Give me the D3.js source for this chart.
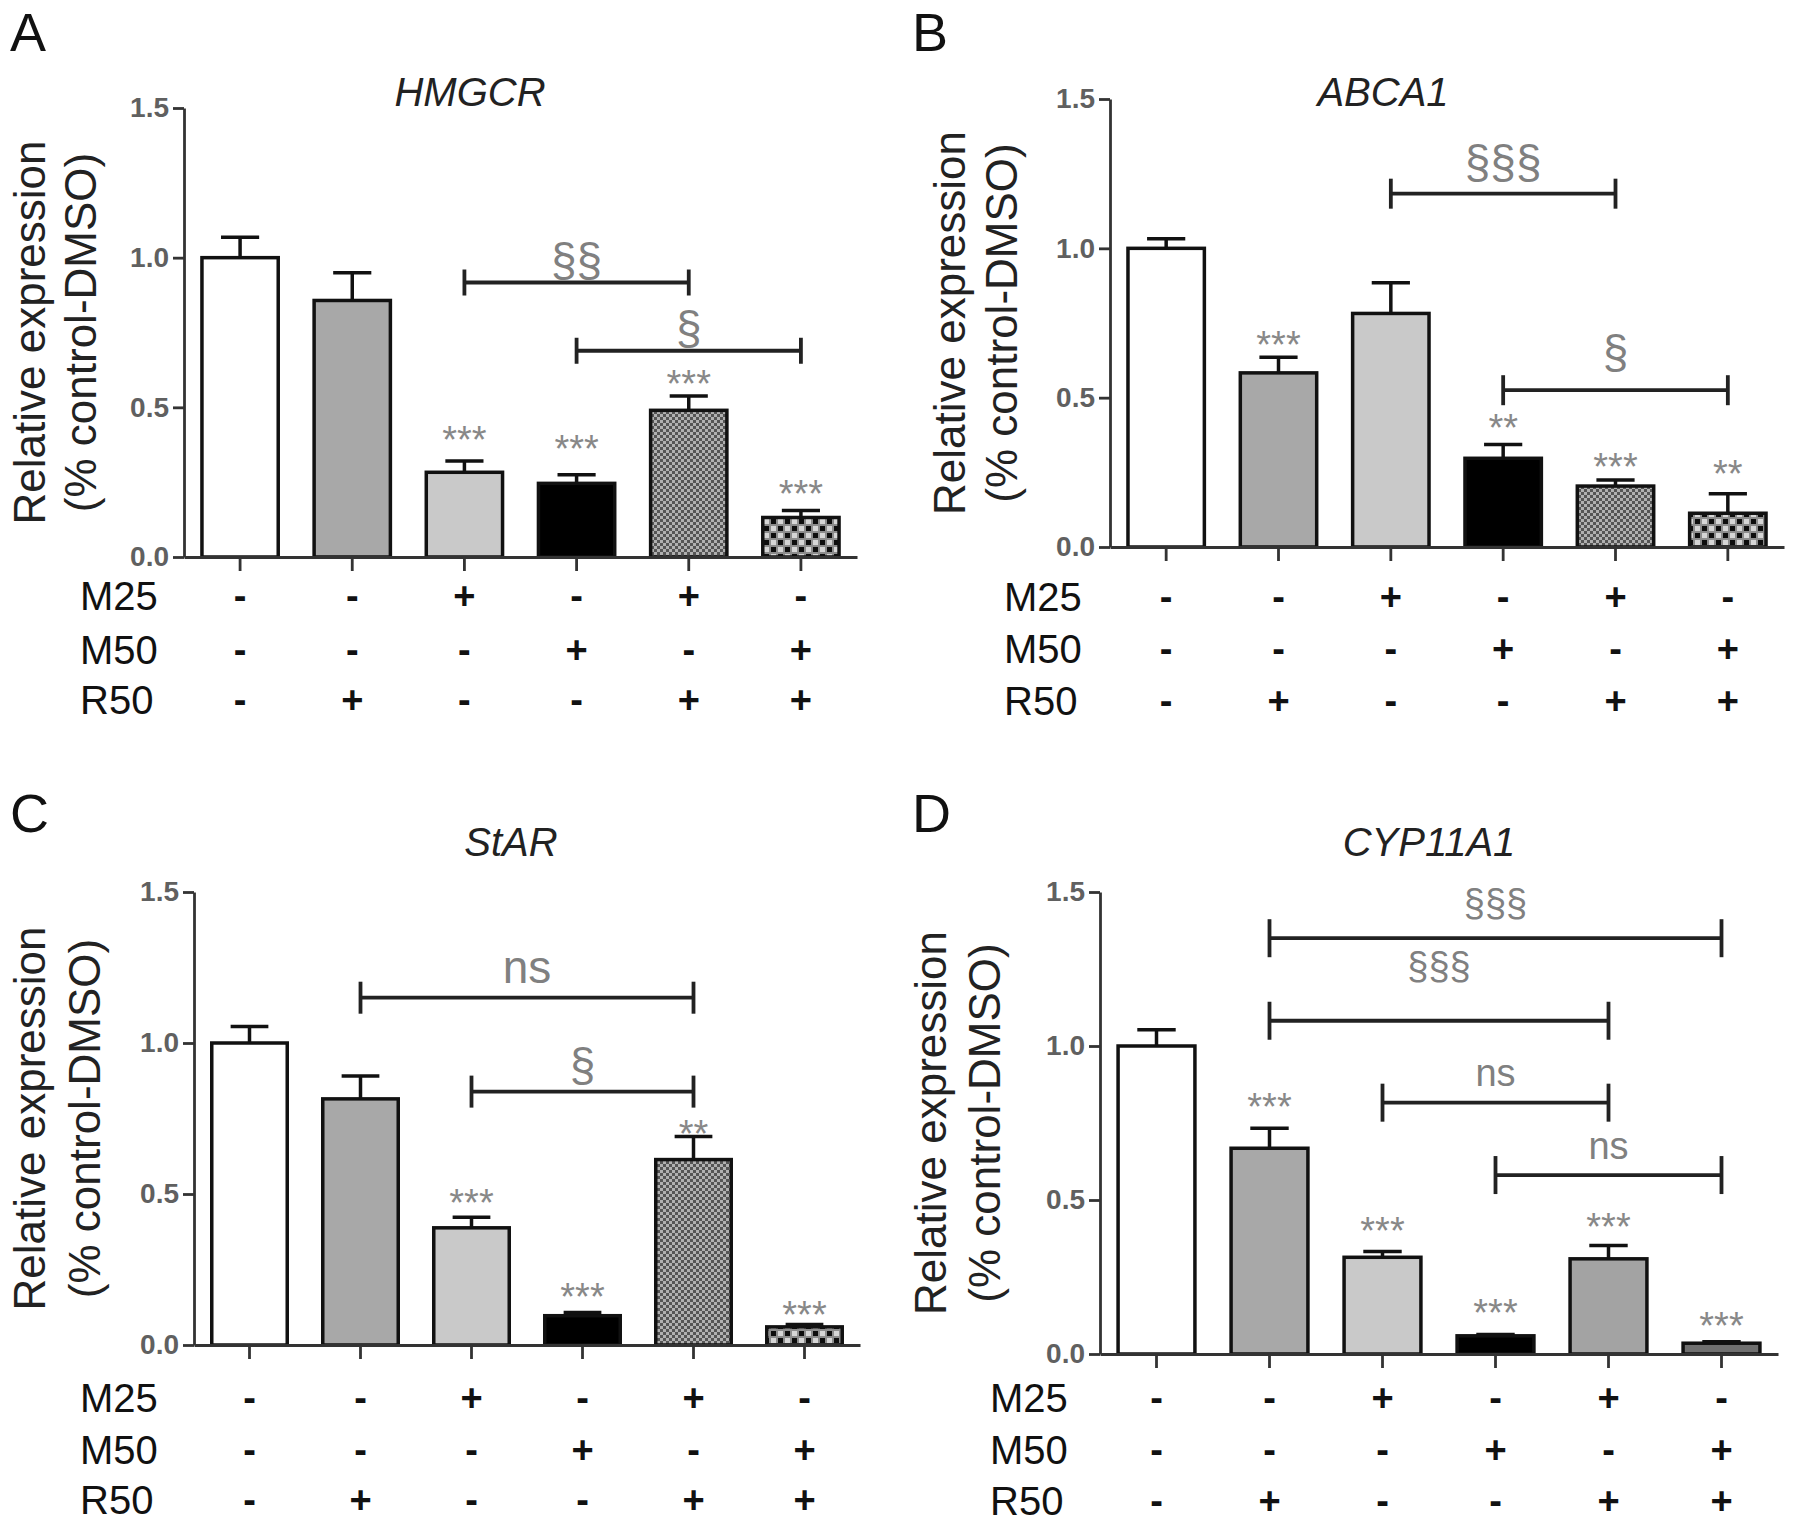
<!DOCTYPE html>
<html lang="en">
<head>
<meta charset="UTF-8">
<title>Relative expression</title>
<script src="https://d3js.org/d3.v7.min.js"></script>
<style>
  body { margin: 0; background: #fff; }
  text { font-family: "Liberation Sans", Arial, sans-serif; }
</style>
</head>
<body>
<script>
// treatment groups (one bar each) and the +/- table under the bars
const groups = ["g1", "g2", "g3", "g4", "g5", "g6"];
const rowNames = ["M25", "M50", "R50"];
const m25 = ["-", "-", "+", "-", "+", "-"];
const m50 = ["-", "-", "-", "+", "-", "+"];
const r50 = ["-", "+", "-", "-", "+", "+"];
const yTicks = [0, 0.5, 1.0, 1.5];

// A - HMGCR
const hmgcrMean = [1.0, 0.857, 0.283, 0.246, 0.49, 0.132];
const hmgcrErr = [0.068, 0.093, 0.038, 0.029, 0.048, 0.023];
const hmgcrStars = ["", "", "***", "***", "***", "***"];
const hmgcrStarLevel = [0, 0, 0.42, 0.39, 0.607, 0.241];
const hmgcrBrackets = [
  { from: 2, to: 4, level: 0.917, label: "§§", textLevel: 0.98 },
  { from: 3, to: 5, level: 0.689, label: "§", textLevel: 0.754 }
];

// B - ABCA1
const abca1Mean = [1.0, 0.583, 0.782, 0.297, 0.204, 0.113];
const abca1Err = [0.032, 0.052, 0.103, 0.046, 0.02, 0.065];
const abca1Stars = ["", "***", "", "**", "***", "**"];
const abca1StarLevel = [0, 0.705, 0, 0.428, 0.297, 0.273];
const abca1Brackets = [
  { from: 2, to: 4, level: 1.183, label: "§§§", textLevel: 1.276 },
  { from: 3, to: 5, level: 0.525, label: "§", textLevel: 0.64 }
];

// C - StAR
const starMean = [1.0, 0.815, 0.388, 0.097, 0.614, 0.06];
const starErr = [0.055, 0.076, 0.035, 0.011, 0.076, 0.008];
const starStars = ["", "", "***", "***", "**", "***"];
const starStarLevel = [0, 0, 0.5, 0.189, 0.73, 0.128];
const starBrackets = [
  { from: 1, to: 4, level: 1.15, label: "ns", textLevel: 1.24 },
  { from: 2, to: 4, level: 0.839, label: "§", textLevel: 0.915 }
];

// D - CYP11A1
const cypMean = [1.0, 0.668, 0.314, 0.059, 0.309, 0.035];
const cypErr = [0.053, 0.065, 0.019, 0.004, 0.043, 0.005];
const cypStars = ["", "***", "***", "***", "***", "***"];
const cypStarLevel = [0, 0.832, 0.428, 0.163, 0.44, 0.119];
const cypBrackets = [
  { from: 1, to: 5, level: 1.35, label: "§§§", textLevel: 1.457 },
  { from: 1, to: 4, level: 1.082, label: "§§§", textLevel: 1.25 },
  { from: 2, to: 4, level: 0.816, label: "ns", textLevel: 0.903 },
  { from: 3, to: 5, level: 0.581, label: "ns", textLevel: 0.665 }
];

const fillsABC = ["#ffffff", "#a8a8a8", "#c9c9c9", "#000000", "url(#fine)", "url(#coarse)"];
const fillsD = ["#ffffff", "#a8a8a8", "#c9c9c9", "#000000", "#a3a3a3", "#707070"];

const panels = [
  { letter: "A", gene: "HMGCR", mean: hmgcrMean, err: hmgcrErr, stars: hmgcrStars, starLevel: hmgcrStarLevel,
    brackets: hmgcrBrackets, fills: fillsABC, x0: 184, x1: 857, yTop: 108, yBot: 557,
    letterX: 10, letterY: 51, titleX: 470, titleY: 106, ylabX: [29, 80], rowLabX: 80, rowY: [596, 650, 700],
    annFont: "Liberation Sans", tick: 13 },
  { letter: "B", gene: "ABCA1", mean: abca1Mean, err: abca1Err, stars: abca1Stars, starLevel: abca1StarLevel,
    brackets: abca1Brackets, fills: fillsABC, x0: 1110, x1: 1784, yTop: 99, yBot: 547,
    letterX: 912, letterY: 51, titleX: 1383, titleY: 106, ylabX: [949, 1001], rowLabX: 1004, rowY: [597, 649, 701],
    annFont: "Liberation Sans", tick: 15 },
  { letter: "C", gene: "StAR", mean: starMean, err: starErr, stars: starStars, starLevel: starStarLevel,
    brackets: starBrackets, fills: fillsABC, x0: 194, x1: 860, yTop: 892, yBot: 1345,
    letterX: 10, letterY: 832, titleX: 511, titleY: 856, ylabX: [29, 84], rowLabX: 80, rowY: [1398, 1450, 1500],
    annFont: "Liberation Sans", tick: 16 },
  { letter: "D", gene: "CYP11A1", mean: cypMean, err: cypErr, stars: cypStars, starLevel: cypStarLevel,
    brackets: cypBrackets, fills: fillsD, x0: 1100, x1: 1778, yTop: 892, yBot: 1354,
    letterX: 912, letterY: 832, titleX: 1429, titleY: 856, ylabX: [930, 984], rowLabX: 990, rowY: [1398, 1450, 1501],
    annFont: "DejaVu Sans", tick: 19 }
];

const svg = d3.select("body").append("svg")
  .attr("width", 1795)
  .attr("height", 1522)
  .style("display", "block");

// bar fill patterns
const defs = svg.append("defs");
const fine = defs.append("pattern").attr("id", "fine")
  .attr("patternUnits", "userSpaceOnUse").attr("width", 6).attr("height", 6);
fine.append("rect").attr("width", 6).attr("height", 6).attr("fill", "#555");
fine.append("rect").attr("x", 0).attr("y", 0).attr("width", 3).attr("height", 3).attr("fill", "#b0b0b0");
fine.append("rect").attr("x", 3).attr("y", 3).attr("width", 3).attr("height", 3).attr("fill", "#b0b0b0");

const coarse = defs.append("pattern").attr("id", "coarse")
  .attr("patternUnits", "userSpaceOnUse").attr("width", 14).attr("height", 14);
coarse.append("rect").attr("width", 14).attr("height", 14).attr("fill", "#8c8c8c");
coarse.append("rect").attr("x", 1).attr("y", 1).attr("width", 5).attr("height", 5).attr("fill", "#0d0d0d");
coarse.append("rect").attr("x", 8).attr("y", 8).attr("width", 5).attr("height", 5).attr("fill", "#0d0d0d");
coarse.append("rect").attr("x", 8).attr("y", 1).attr("width", 5).attr("height", 5).attr("fill", "#d6d6d6");
coarse.append("rect").attr("x", 1).attr("y", 8).attr("width", 5).attr("height", 5).attr("fill", "#d6d6d6");

panels.forEach(p => {
  const g = svg.append("g");

  const x = d3.scaleBand().domain(groups).range([p.x0, p.x1])
    .paddingInner(0.32).paddingOuter(0.16);
  const y = d3.scaleLinear().domain([0, 1.5]).range([p.yBot, p.yTop]);
  const cx = i => x(groups[i]) + x.bandwidth() / 2;

  // panel letter + gene title
  g.append("text").attr("x", p.letterX).attr("y", p.letterY)
    .attr("font-size", 54).attr("fill", "#111").text(p.letter);
  g.append("text").attr("x", p.titleX).attr("y", p.titleY)
    .attr("text-anchor", "middle").attr("font-size", 40).attr("font-style", "italic")
    .attr("fill", "#222").text(p.gene);

  // y axis label, two lines
  const midY = (p.yTop + p.yBot) / 2;
  ["Relative expression", "(% control-DMSO)"].forEach((t, k) => {
    g.append("text")
      .attr("transform", `translate(${p.ylabX[k]},${midY}) rotate(-90)`)
      .attr("text-anchor", "middle").attr("dominant-baseline", "central")
      .attr("font-size", 44).attr("fill", "#222").text(t);
  });

  // bars
  g.selectAll("rect.bar").data(p.mean).enter().append("rect")
    .attr("class", "bar")
    .attr("x", (d, i) => x(groups[i]))
    .attr("y", d => y(d))
    .attr("width", x.bandwidth())
    .attr("height", d => y(0) - y(d))
    .attr("fill", (d, i) => p.fills[i])
    .attr("stroke", "#111").attr("stroke-width", 3.5);

  // error bars (upper only)
  const capW = x.bandwidth() * 0.5;
  p.mean.forEach((m, i) => {
    const top = y(m + p.err[i]);
    g.append("line").attr("x1", cx(i)).attr("x2", cx(i))
      .attr("y1", y(m)).attr("y2", top)
      .attr("stroke", "#111").attr("stroke-width", 3.5);
    g.append("line").attr("x1", cx(i) - capW / 2).attr("x2", cx(i) + capW / 2)
      .attr("y1", top).attr("y2", top)
      .attr("stroke", "#111").attr("stroke-width", 3.5);
  });

  // axes
  const yAxis = g.append("g").attr("transform", `translate(${p.x0},0)`)
    .call(d3.axisLeft(y).tickValues(yTicks).tickFormat(d3.format(".1f"))
      .tickSize(11).tickSizeOuter(0).tickPadding(4));
  const xAxis = g.append("g").attr("transform", `translate(0,${p.yBot})`)
    .call(d3.axisBottom(x).tickSize(14).tickSizeOuter(0).tickFormat(""));
  [yAxis, xAxis].forEach(a => {
    a.select(".domain").attr("stroke", "#333").attr("stroke-width", 2.8);
    a.selectAll(".tick line").attr("stroke", "#333").attr("stroke-width", 2.8);
  });
  yAxis.selectAll(".tick text")
    .attr("font-size", 28).attr("font-weight", "bold").attr("fill", "#606060")
    .attr("font-family", "Liberation Sans, Arial, sans-serif");

  // significance stars
  p.stars.forEach((s, i) => {
    if (!s) return;
    g.append("text").attr("x", cx(i)).attr("y", y(p.starLevel[i]) + 22)
      .attr("text-anchor", "middle").attr("font-size", 38)
      .attr("font-family", p.annFont).attr("fill", "#888").text(s);
  });

  // comparison brackets
  p.brackets.forEach(b => {
    const xa = cx(b.from), xb = cx(b.to), yl = y(b.level);
    g.append("line").attr("x1", xa).attr("x2", xb).attr("y1", yl).attr("y2", yl)
      .attr("stroke", "#222").attr("stroke-width", 3.8);
    [xa, xb].forEach(xx => {
      g.append("line").attr("x1", xx).attr("x2", xx)
        .attr("y1", yl - p.tick).attr("y2", yl + p.tick)
        .attr("stroke", "#222").attr("stroke-width", 3.8);
    });
    const fs = p.annFont === "DejaVu Sans" ? 38 : 46;
    g.append("text").attr("x", (xa + xb) / 2).attr("y", y(b.textLevel) + 0.27 * fs)
      .attr("text-anchor", "middle").attr("font-size", fs)
      .attr("font-family", p.annFont).attr("fill", "#808080").text(b.label);
  });

  // +/- table
  [m25, m50, r50].forEach((row, r) => {
    g.append("text").attr("x", p.rowLabX).attr("y", p.rowY[r])
      .attr("dominant-baseline", "central").attr("font-size", 40)
      .attr("fill", "#111").text(rowNames[r]);
    row.forEach((sign, i) => {
      g.append("text").attr("x", cx(i)).attr("y", p.rowY[r])
        .attr("text-anchor", "middle").attr("dominant-baseline", "central")
        .attr("font-size", 38).attr("font-weight", "bold")
        .attr("fill", "#111").text(sign);
    });
  });
});
</script>
</body>
</html>
